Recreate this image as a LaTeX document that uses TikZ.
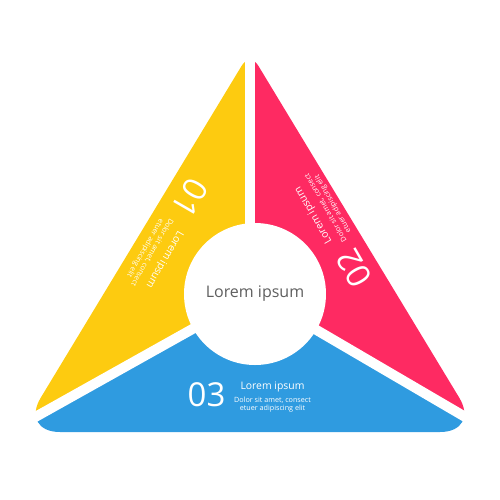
\documentclass[tikz,border=0pt]{standalone}
\usepackage{fontspec}
\setmainfont{Open Sans}
\usetikzlibrary{calc}
\definecolor{secyellow}{HTML}{FDCB10}
\definecolor{secpink}{HTML}{FE2A62}
\definecolor{secblue}{HTML}{2F9BE0}
\definecolor{hubgray}{HTML}{5F5F5F}

\begin{document}
\begin{tikzpicture}[x=0.5pt,y=-0.5pt,
  gap/.style={white,line width=5pt},
  hub/.style={circle,fill=white,inner sep=0pt,minimum size=71pt,text=hubgray,font=\fontsize{8}{9}\selectfont},
  secnum/.style={white,inner sep=0pt,font=\fontsize{16.5}{18}\selectfont},
  sechead/.style={white,inner sep=0pt,anchor=base,font=\fontsize{5.2}{6}\selectfont},
  secline/.style={white,inner sep=0pt,anchor=base,font=\fontsize{3.6}{4}\selectfont}]
\useasboundingbox (0,0) rectangle (500,500);

% corners of the triangle and the middle of the hub
\coordinate (A) at (250,52);
\coordinate (B) at (20,432);
\coordinate (C) at (480,432);
\coordinate (O) at (255,294);
\coordinate (farB) at ($(O)!2!(21,425)$);
\coordinate (farC) at ($(O)!2!(479,425)$);

% coloured sectors, cut to the rounded triangle
\begin{scope}
\clip (250,432) [rounded corners=20pt] -- (C) [rounded corners=8pt] -- (A) [rounded corners=20pt] -- (B) -- cycle;
\fill[secyellow] (250,-10) -- (250,294) -- (O) -- (farB) -- (-300,-10) -- cycle;
\fill[secpink] (250,-10) -- (800,-10) -- (farC) -- (O) -- (250,294) -- cycle;
\fill[secblue] (O) -- (farB) -- (farC) -- cycle;
\end{scope}

% white gaps between the sectors
\draw[gap] (250,0) -- (250,294);
\draw[gap] (O) -- (farB);
\draw[gap] (O) -- (farC);

% hub
\node[hub] (hub) at (O) {Lorem ipsum};

% 01
\begin{scope}[shift={(190,198)},rotate=240,transform shape]
\node[secnum] (num1) at (0,0) {01};
\node[sechead] (head1) at (66,-6) {Lorem ipsum};
\node[secline] (line1a) at (66,7.7) {Dolor sit amet, consect};
\node[secline] (line1b) at (66,15.7) {etuer adipiscing elit};
\end{scope}

% 02
\begin{scope}[shift={(354,268)},rotate=120,transform shape]
\node[secnum] (num2) at (0,0) {02};
\node[sechead] (head2) at (66,-6) {Lorem ipsum};
\node[secline] (line2a) at (66,7.7) {Dolor sit amet, consect};
\node[secline] (line2b) at (66,15.7) {etuer adipiscing elit};
\end{scope}

% 03
\begin{scope}[shift={(206.5,395)}]
\node[secnum] (num3) at (0,0) {03};
\node[sechead] (head3) at (66,-6) {Lorem ipsum};
\node[secline] (line3a) at (66,7.7) {Dolor sit amet, consect};
\node[secline] (line3b) at (66,15.7) {etuer adipiscing elit};
\end{scope}
\end{tikzpicture}
\end{document}
